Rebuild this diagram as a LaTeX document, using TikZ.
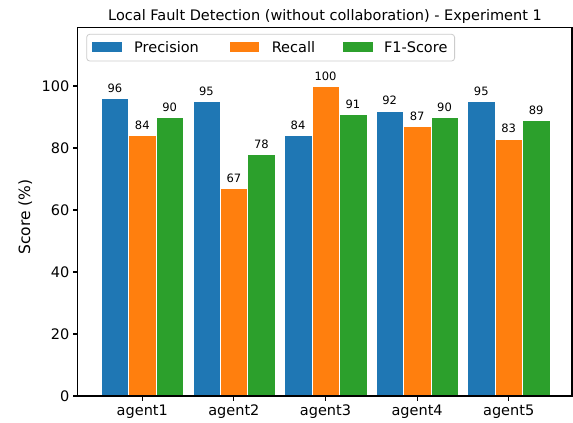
\documentclass[tikz,border=0pt]{standalone}
\usepackage{fontspec}
\setmainfont{DejaVu Sans}
\definecolor{cprec}{HTML}{1F77B4}
\definecolor{crec}{HTML}{FF7F0E}
\definecolor{cfone}{HTML}{2CA02C}
\begin{document}
\begin{tikzpicture}[x=1pt,y=-1pt,
  barbox/.style={draw=white,line width=0.3pt},
  barlabel/.style={anchor=south,inner sep=0pt,font=\fontsize{11.5}{13}\selectfont},
  ticklab/.style={inner sep=0pt,font=\fontsize{14.5}{17}\selectfont},
  leglab/.style={anchor=west,inner sep=0pt,font=\fontsize{14.5}{17}\selectfont},
  spine/.style={line width=1.1pt,black},
  tickmark/.style={line width=1.1pt,black}]
\path[use as bounding box,fill=white] (0,0) rectangle (573,423);
% bars
\foreach \i/\p/\r/\f in {0/96/84/90,1/95/67/78,2/84/100/91,3/92/87/90,4/95/83/89}{
  \pgfmathsetmacro\c{142.3+91.6*\i}
  \filldraw[barbox,fill=cprec] (\c-41.2,396) rectangle (\c-13.7,396-3.1*\p);
  \filldraw[barbox,fill=crec] (\c-13.7,396) rectangle (\c+13.7,396-3.1*\r);
  \filldraw[barbox,fill=cfone] (\c+13.7,396) rectangle (\c+41.2,396-3.1*\f);
  \node[barlabel] (lp\i) at (\c-27.45,396-3.1*\p-5.5) {\p};
  \node[barlabel] (lr\i) at (\c,396-3.1*\r-5.5) {\r};
  \node[barlabel] (lf\i) at (\c+27.45,396-3.1*\f-5.5) {\f};
  \draw[tickmark] (\c,396) -- (\c,401);
  \pgfmathtruncatemacro\n{\i+1}
  \node[ticklab,anchor=base] (xt\i) at (\c,415.5) {agent\n};
}
% y ticks
\foreach \v in {0,20,40,60,80,100}{
  \draw[tickmark] (77.5,396-3.1*\v) -- (72.5,396-3.1*\v);
  \node[ticklab,anchor=east] (yt\v) at (69.5,396-3.1*\v) {\v};
}
% spines
\draw[spine] (77.5,27.5) rectangle (572,396);
% legend
\draw[rounded corners=3pt,draw=black!20,fill=white,line width=0.8pt] (86.7,34.3) rectangle (454.6,61);
\fill[cprec] (92,41.7) rectangle (122,52.3);
\node[leglab] (lgp) at (134,47.3) {Precision};
\fill[crec] (229.5,41.7) rectangle (259,52.3);
\node[leglab] (lgr) at (271.6,47.3) {Recall};
\fill[cfone] (343,41.7) rectangle (372.7,52.3);
\node[leglab] (lgf) at (383.8,47.3) {F1-Score};
% title and axis label
\node[ticklab,anchor=base] (title) at (325,20) {Local Fault Detection (without collaboration) - Experiment 1};
\node[inner sep=0pt,font=\fontsize{15.5}{18}\selectfont,rotate=90] (ylab) at (25.3,217) {Score (\%)};
\end{tikzpicture}
\end{document}
